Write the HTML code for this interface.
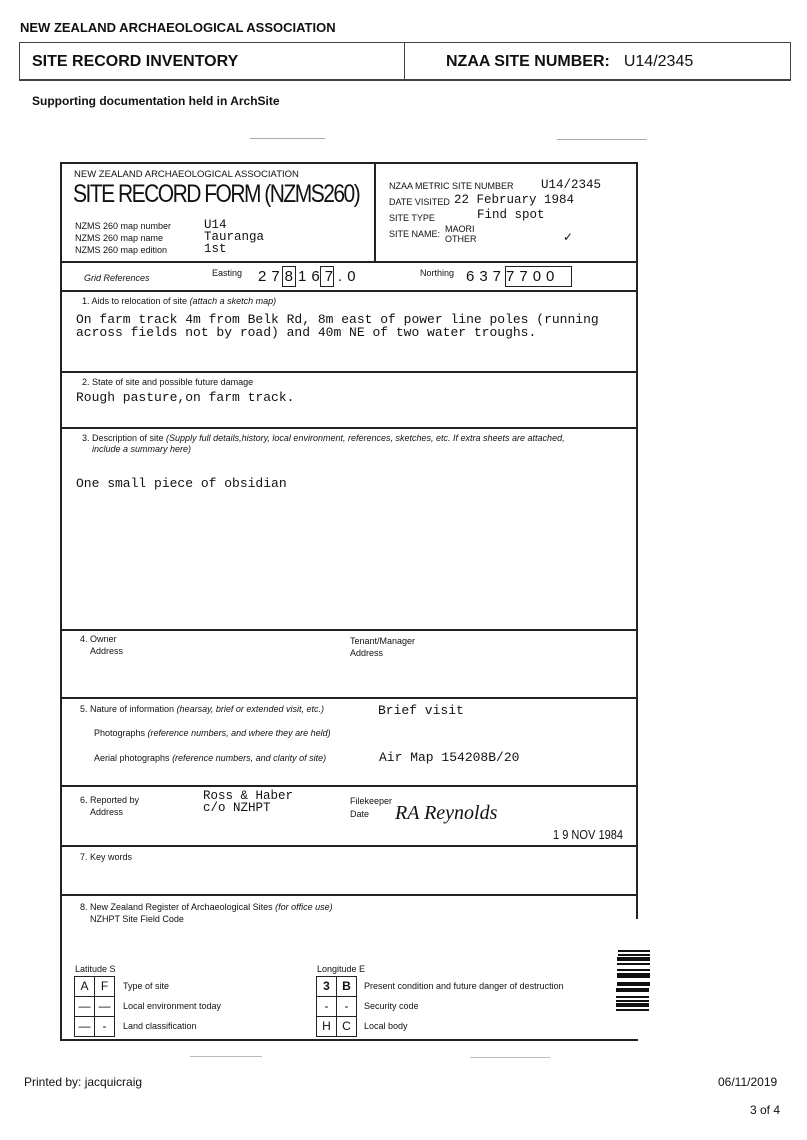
<!DOCTYPE html>
<html><head><meta charset="utf-8"><style>
body{margin:0;width:807px;height:1140px;background:#fff;position:relative;font-family:"Liberation Sans",sans-serif;color:#111;overflow:hidden}
.a{position:absolute;white-space:nowrap}
.m{font-family:"Liberation Mono",monospace;font-size:12.5px}
.s{font-size:9px}
.i{font-style:italic}
.h{position:absolute;background:#222;height:2px}
.v{position:absolute;background:#222;width:2px}
.g{position:absolute;border:1px solid #222;width:19px;height:19px;font-size:12px;text-align:center;line-height:19px}
</style></head><body>
<div class="a" style="left:20px;top:20px;font-size:13px;font-weight:bold">NEW ZEALAND ARCHAEOLOGICAL ASSOCIATION</div>
<div class="a" style="left:19px;top:42px;width:770px;height:36px;border:1px solid #444;border-bottom:2px solid #444"></div>
<div class="v" style="left:404px;top:42px;height:38px;width:1px;background:#444"></div>
<div class="a" style="left:32px;top:53px;font-size:16px;font-weight:bold">SITE RECORD INVENTORY</div>
<div class="a" style="left:446px;top:53px;font-size:16px;font-weight:bold">NZAA SITE NUMBER:<span style="font-weight:normal;margin-left:14px">U14/2345</span></div>
<div class="a" style="left:32px;top:94px;font-size:12px;font-weight:bold">Supporting documentation held in ArchSite</div>
<div class="h" style="left:250px;top:138px;width:75px;height:1px;background:#aaa"></div>
<div class="h" style="left:557px;top:139px;width:90px;height:1px;background:#aaa"></div>

<!-- form frame -->
<div class="h" style="left:60px;top:162px;width:578px"></div>
<div class="v" style="left:60px;top:162px;height:879px"></div>
<div class="v" style="left:636px;top:162px;height:757px"></div>
<div class="h" style="left:60px;top:1039px;width:578px"></div>
<div class="v" style="left:374px;top:162px;height:100px"></div>
<div class="h" style="left:60px;top:261px;width:578px"></div>
<div class="h" style="left:60px;top:290px;width:578px"></div>
<div class="h" style="left:60px;top:371px;width:578px"></div>
<div class="h" style="left:60px;top:427px;width:578px"></div>
<div class="h" style="left:60px;top:629px;width:578px"></div>
<div class="h" style="left:60px;top:697px;width:578px"></div>
<div class="h" style="left:60px;top:785px;width:578px"></div>
<div class="h" style="left:60px;top:845px;width:578px"></div>
<div class="h" style="left:60px;top:894px;width:578px"></div>

<div class="a s" style="left:74px;top:169px;font-size:9.5px">NEW ZEALAND ARCHAEOLOGICAL ASSOCIATION</div>
<div class="a" style="left:73px;top:180px;font-size:25px;letter-spacing:-1.8px;transform:scaleX(0.84);transform-origin:left">SITE RECORD FORM (NZMS260)</div>
<div class="a s" style="left:75px;top:220px;line-height:12px">NZMS 260 map number<br>NZMS 260 map name<br>NZMS 260 map edition</div>
<div class="a m" style="left:204px;top:219px;line-height:12px">U14<br>Tauranga<br>1st</div>
<div class="a s" style="left:389px;top:181px">NZAA METRIC SITE NUMBER</div>
<div class="a m" style="left:541px;top:178px">U14/2345</div>
<div class="a s" style="left:389px;top:197px">DATE VISITED</div>
<div class="a m" style="left:454px;top:193px">22 February 1984</div>
<div class="a s" style="left:389px;top:213px">SITE TYPE</div>
<div class="a m" style="left:477px;top:208px">Find spot</div>
<div class="a s" style="left:389px;top:229px">SITE NAME:</div>
<div class="a s" style="left:445px;top:224px;line-height:10px">MAORI<br>OTHER</div>
<div class="a" style="left:563px;top:230px;font-size:12px">✓</div>

<div class="a s i" style="left:84px;top:273px">Grid References</div>
<div class="a s" style="left:212px;top:268px">Easting</div>
<div class="a" style="left:258px;top:268px;font-size:15px;letter-spacing:5px">278167.0</div>
<div class="a" style="left:282px;top:266px;width:12px;height:19px;border:1px solid #222"></div>
<div class="a" style="left:320px;top:266px;width:12px;height:19px;border:1px solid #222"></div>
<div class="a s" style="left:420px;top:268px">Northing</div>
<div class="a" style="left:466px;top:268px;font-size:15px;letter-spacing:5px">6377700</div>
<div class="a" style="left:505px;top:266px;width:65px;height:19px;border:1px solid #222"></div>

<div class="a s" style="left:82px;top:296px">1. Aids to relocation of site <i>(attach a sketch map)</i></div>
<div class="a m" style="left:76px;top:313px;line-height:13px;font-size:13px">On farm track 4m from Belk Rd, 8m east of power line poles (running<br>across fields not by road) and 40m NE of two water troughs.</div>
<div class="a s" style="left:82px;top:377px">2. State of site and possible future damage</div>
<div class="a m" style="left:76px;top:390px;font-size:13px">Rough pasture,on farm track.</div>
<div class="a s" style="left:82px;top:433px;line-height:11px">3. Description of site <i>(Supply full details,history, local environment, references, sketches, etc. If extra sheets are attached,</i><br>&nbsp;&nbsp;&nbsp;&nbsp;<i>include a summary here)</i></div>
<div class="a m" style="left:76px;top:476px;font-size:13px">One small piece of obsidian</div>

<div class="a s" style="left:80px;top:633px;line-height:12px">4. Owner<br>&nbsp;&nbsp;&nbsp;&nbsp;Address</div>
<div class="a s" style="left:350px;top:635px;line-height:12px">Tenant/Manager<br>Address</div>
<div class="a s" style="left:80px;top:704px">5. Nature of information <i>(hearsay, brief or extended visit, etc.)</i></div>
<div class="a m" style="left:378px;top:703px;font-size:13px">Brief visit</div>
<div class="a s" style="left:94px;top:728px">Photographs <i>(reference numbers, and where they are held)</i></div>
<div class="a s" style="left:94px;top:753px">Aerial photographs <i>(reference numbers, and clarity of site)</i></div>
<div class="a m" style="left:379px;top:750px;font-size:13px">Air Map 154208B/20</div>
<div class="a s" style="left:80px;top:794px;line-height:12px">6. Reported by<br>&nbsp;&nbsp;&nbsp;&nbsp;Address</div>
<div class="a m" style="left:203px;top:790px;line-height:12px">Ross &amp; Haber<br>c/o NZHPT</div>
<div class="a s" style="left:350px;top:795px;line-height:13px">Filekeeper<br>Date</div>
<div class="a" style="left:395px;top:802px;font-family:'Liberation Serif',serif;font-style:italic;font-size:20px">RA Reynolds</div>
<div class="a" style="left:553px;top:827px;font-size:13px;transform:scaleX(0.85);transform-origin:left">1 9 NOV 1984</div>
<div class="a s" style="left:80px;top:852px">7. Key words</div>
<div class="a s" style="left:80px;top:901px;line-height:12px">8. New Zealand Register of Archaeological Sites <i>(for office use)</i><br>&nbsp;&nbsp;&nbsp;&nbsp;NZHPT Site Field Code</div>

<div class="a s" style="left:75px;top:964px">Latitude S</div>
<div class="a s" style="left:317px;top:964px">Longitude E</div>
<div class="g" style="left:74px;top:976px">A</div><div class="g" style="left:94px;top:976px">F</div>
<div class="g" style="left:74px;top:996px">—</div><div class="g" style="left:94px;top:996px">—</div>
<div class="g" style="left:74px;top:1016px">—</div><div class="g" style="left:94px;top:1016px">-</div>
<div class="g" style="left:316px;top:976px;font-weight:bold">3</div><div class="g" style="left:336px;top:976px;font-weight:bold">B</div>
<div class="g" style="left:316px;top:996px">-</div><div class="g" style="left:336px;top:996px">-</div>
<div class="g" style="left:316px;top:1016px">H</div><div class="g" style="left:336px;top:1016px">C</div>
<div class="a s" style="left:123px;top:981px">Type of site</div>
<div class="a s" style="left:123px;top:1001px">Local environment today</div>
<div class="a s" style="left:123px;top:1021px">Land classification</div>
<div class="a s" style="left:364px;top:981px">Present condition and future danger of destruction</div>
<div class="a s" style="left:364px;top:1001px">Security code</div>
<div class="a s" style="left:364px;top:1021px">Local body</div>

<svg class="a" style="left:614px;top:948px" width="40" height="66">
<g fill="#111">
<rect x="4" y="2" width="32" height="2"/><rect x="4" y="6" width="32" height="2"/><rect x="3" y="9" width="33" height="4"/><rect x="3" y="15" width="33" height="2"/>
<rect x="3" y="21" width="33" height="2"/><rect x="3" y="25" width="33" height="5"/><rect x="3" y="34" width="33" height="4"/><rect x="2" y="40" width="33" height="4"/>
<rect x="2" y="48" width="33" height="2"/><rect x="2" y="52" width="33" height="2"/><rect x="2" y="55" width="33" height="4"/><rect x="2" y="61" width="33" height="2"/>
</g></svg>
<div class="h" style="left:190px;top:1056px;width:72px;height:1px;background:#bbb"></div>
<div class="h" style="left:470px;top:1057px;width:80px;height:1px;background:#bbb"></div>

<div class="a" style="left:24px;top:1075px;font-size:12px">Printed by: jacquicraig</div>
<div class="a" style="left:718px;top:1075px;font-size:12px">06/11/2019</div>
<div class="a" style="left:750px;top:1103px;font-size:12px">3 of 4</div>
</body></html>
